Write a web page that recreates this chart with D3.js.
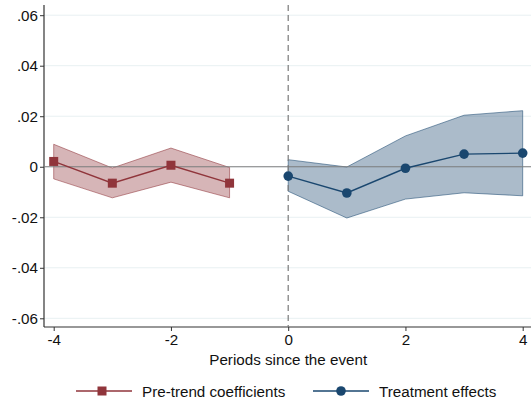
<!DOCTYPE html>
<html>
<head>
<meta charset="utf-8">
<script src="https://cdn.jsdelivr.net/npm/d3@7"></script>
<style>
  html, body { margin: 0; padding: 0; background: #fff; }
  svg { display: block; font-family: "Liberation Sans", Arial, sans-serif; }
</style>
</head>
<body>
<svg id="chart" width="531" height="405"></svg>
<script>
// Event-study estimates with 95% confidence bands
const prePeriods = [-4, -3, -2, -1];
const preCoef    = [0.0021, -0.0065, 0.0006, -0.0065];
const preLower   = [-0.0048, -0.0123, -0.0061, -0.0123];
const preUpper   = [0.0089, -0.0005, 0.0074, -0.0003];

const postPeriods = [0, 1, 2, 3, 4];
const postCoef    = [-0.0037, -0.0104, -0.0006, 0.0050, 0.0054];
const postLower   = [-0.0097, -0.0203, -0.0128, -0.0103, -0.0115];
const postUpper   = [0.0028, -0.0001, 0.0122, 0.0204, 0.0222];

const xTicks = [-4, -2, 0, 2, 4];
const xTickLabels = ["-4", "-2", "0", "2", "4"];
const yTicks = [-0.06, -0.04, -0.02, 0, 0.02, 0.04, 0.06];
const yTickLabels = ["-.06", "-.04", "-.02", "0", ".02", ".04", ".06"];

const seriesNames = ["Pre-trend coefficients", "Treatment effects"];
const xTitle = "Periods since the event";

const red = "#90353b";
const blue = "#1a476f";
const fs = 15.2;

const svg = d3.select("#chart");
const plotLeft = 44, plotRight = 531, plotTop = 5, plotBottom = 327;

const x = d3.scaleLinear().domain([-4, 4]).range([53.7, 522.7]);
const y = d3.scaleLinear().domain([-0.06, 0.06]).range([318.3, 15.2]);

// light horizontal gridlines
svg.append("g").selectAll("line").data(yTicks).join("line")
  .attr("x1", plotLeft).attr("x2", plotRight)
  .attr("y1", d => y(d)).attr("y2", d => y(d))
  .attr("stroke", "#e8f0f2").attr("stroke-width", 1);

// y axis
const yAxis = d3.axisLeft(y).tickValues(yTicks)
  .tickFormat((d, i) => yTickLabels[i]).tickSize(4).tickSizeOuter(0);
const gy = svg.append("g").attr("transform", `translate(${plotLeft},0)`).call(yAxis);
gy.select(".domain").remove();
gy.selectAll(".tick line").attr("stroke", "#333");
gy.selectAll(".tick text").attr("font-size", fs).attr("fill", "#111")
  .attr("font-family", "Liberation Sans, Arial, sans-serif").attr("x", -6);
svg.append("line").attr("x1", plotLeft).attr("x2", plotLeft)
  .attr("y1", plotTop).attr("y2", plotBottom).attr("stroke", "#333").attr("stroke-width", 1.2);

// x axis
const xAxis = d3.axisBottom(x).tickValues(xTicks)
  .tickFormat((d, i) => xTickLabels[i]).tickSize(4).tickSizeOuter(0);
const gx = svg.append("g").attr("transform", `translate(0,${plotBottom})`).call(xAxis);
gx.select(".domain").remove();
gx.selectAll(".tick line").attr("stroke", "#333");
gx.selectAll(".tick text").attr("font-size", fs).attr("fill", "#111")
  .attr("font-family", "Liberation Sans, Arial, sans-serif").attr("y", 7);
svg.append("line").attr("x1", plotLeft).attr("x2", plotRight)
  .attr("y1", plotBottom).attr("y2", plotBottom).attr("stroke", "#333").attr("stroke-width", 1.2);

// x axis title
svg.append("text").attr("x", (x(-4) + x(4)) / 2).attr("y", 365)
  .attr("text-anchor", "middle").attr("font-size", fs).attr("fill", "#111").text(xTitle);

// confidence bands
const area = d3.area().x(d => x(d.t)).y0(d => y(d.lo)).y1(d => y(d.hi));
const preData = prePeriods.map((t, i) => ({ t, b: preCoef[i], lo: preLower[i], hi: preUpper[i] }));
const postData = postPeriods.map((t, i) => ({ t, b: postCoef[i], lo: postLower[i], hi: postUpper[i] }));

function band(data, color) {
  svg.append("path").datum(data).attr("d", area)
    .attr("fill", color).attr("fill-opacity", 0.37)
    .attr("stroke", color).attr("stroke-opacity", 0.55).attr("stroke-width", 1);
}
band(preData, red);
band(postData, blue);

// zero reference line
svg.append("line").attr("x1", plotLeft).attr("x2", plotRight)
  .attr("y1", y(0)).attr("y2", y(0)).attr("stroke", "#7f7f7f").attr("stroke-width", 1.2);

// event date
svg.append("line").attr("x1", x(0)).attr("x2", x(0))
  .attr("y1", plotTop).attr("y2", plotBottom)
  .attr("stroke", "#7a7a7a").attr("stroke-width", 1.2).attr("stroke-dasharray", "6,4");

// coefficient lines and markers
const line = d3.line().x(d => x(d.t)).y(d => y(d.b));
svg.append("path").datum(preData).attr("d", line).attr("fill", "none")
  .attr("stroke", red).attr("stroke-width", 1.4);
svg.append("path").datum(postData).attr("d", line).attr("fill", "none")
  .attr("stroke", blue).attr("stroke-width", 1.4);

svg.append("g").selectAll("rect").data(preData).join("rect")
  .attr("x", d => x(d.t) - 4.5).attr("y", d => y(d.b) - 4.5)
  .attr("width", 9).attr("height", 9).attr("fill", red);
svg.append("g").selectAll("circle").data(postData).join("circle")
  .attr("cx", d => x(d.t)).attr("cy", d => y(d.b)).attr("r", 4.8).attr("fill", blue);

// legend
const legY = 391;
const leg = svg.append("g");
leg.append("line").attr("x1", 76).attr("x2", 132).attr("y1", legY).attr("y2", legY)
  .attr("stroke", red).attr("stroke-width", 1.4);
leg.append("rect").attr("x", 102 - 4.5).attr("y", legY - 4.5).attr("width", 9).attr("height", 9).attr("fill", red);
leg.append("text").attr("x", 142).attr("y", legY + 5.5).attr("font-size", fs).attr("fill", "#111").text(seriesNames[0]);

leg.append("line").attr("x1", 313).attr("x2", 369).attr("y1", legY).attr("y2", legY)
  .attr("stroke", blue).attr("stroke-width", 1.4);
leg.append("circle").attr("cx", 341).attr("cy", legY).attr("r", 4.8).attr("fill", blue);
leg.append("text").attr("x", 379).attr("y", legY + 5.5).attr("font-size", fs).attr("fill", "#111").text(seriesNames[1]);
</script>
</body>
</html>
